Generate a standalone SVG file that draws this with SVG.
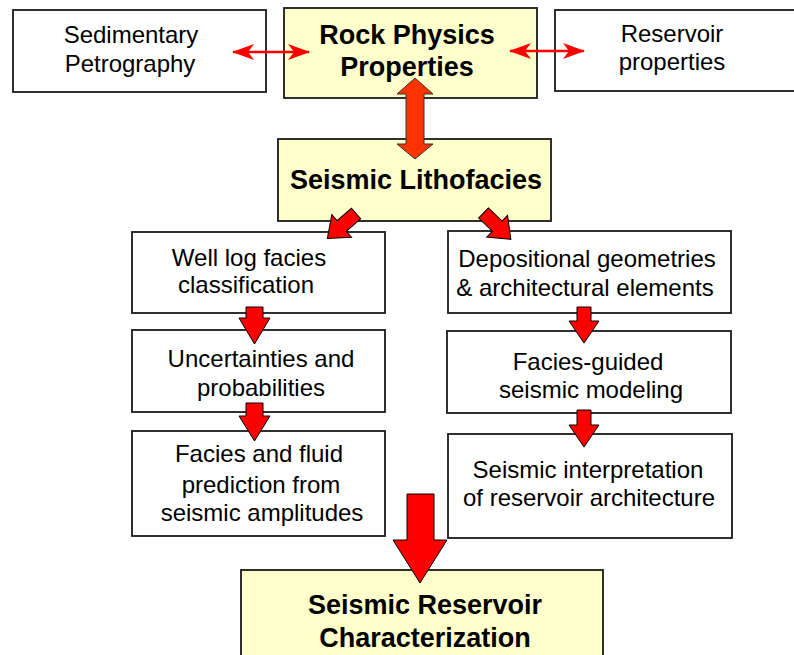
<svg xmlns="http://www.w3.org/2000/svg" width="794" height="655" viewBox="0 0 794 655">
<defs>
<style>
.box{fill:#ffffff;stroke:#1a1a1a;stroke-width:1.8}
.ybox{fill:#ffffcc;stroke:#1a1a1a;stroke-width:1.8}
.t{font-family:"Liberation Sans",Arial,sans-serif;font-size:24px;fill:#000;text-anchor:middle}
.b{font-family:"Liberation Sans",Arial,sans-serif;font-size:27px;font-weight:bold;fill:#000;text-anchor:middle}
.red{fill:#ff0000;stroke:#000;stroke-width:1}
.org{fill:#ff3300;stroke:#333;stroke-width:1}
.thin{stroke:#ff0000;stroke-width:2.5;fill:none}
</style>
<marker id="barb" viewBox="0 0 22 16" refX="21" refY="8" markerWidth="22" markerHeight="16" markerUnits="userSpaceOnUse" orient="auto-start-reverse">
<path d="M0,0 L22,8 L0,16 L6,8 z" fill="#ff0000"/>
</marker>
</defs>
<rect width="794" height="655" fill="#ffffff"/>

<g id="sedimentary-petrography">
<rect class="box" x="13" y="10" width="253" height="82"/>
<text class="t" x="131" y="43">Sedimentary</text>
<text class="t" x="130" y="72">Petrography</text>
</g>

<g id="rock-physics">
<rect class="ybox" x="284" y="8" width="253" height="90"/>
<text class="b" x="407" y="44">Rock Physics</text>
<text class="b" x="407" y="76">Properties</text>
</g>

<g id="reservoir-properties">
<rect class="box" x="555" y="10" width="245" height="81"/>
<text class="t" x="672" y="42">Reservoir</text>
<text class="t" x="672" y="70">properties</text>
</g>

<g id="seismic-lithofacies">
<rect class="ybox" x="278" y="139" width="273" height="82"/>
<text class="b" x="416" y="189">Seismic Lithofacies</text>
</g>

<g id="well-log">
<rect class="box" x="132" y="232" width="253" height="81"/>
<text class="t" x="249" y="266">Well log facies</text>
<text class="t" x="246" y="293">classification</text>
</g>

<g id="uncertainties">
<rect class="box" x="132" y="330" width="253" height="82"/>
<text class="t" x="261" y="367">Uncertainties and</text>
<text class="t" x="261" y="396">probabilities</text>
</g>

<g id="facies-fluid">
<rect class="box" x="132" y="431" width="253" height="105"/>
<text class="t" x="259" y="462">Facies and fluid</text>
<text class="t" x="261" y="493">prediction from</text>
<text class="t" x="262" y="521">seismic amplitudes</text>
</g>

<g id="depositional">
<rect class="box" x="448" y="231" width="283" height="82"/>
<text class="t" x="587" y="267">Depositional geometries</text>
<text class="t" x="585" y="296">&amp; architectural elements</text>
</g>

<g id="facies-guided">
<rect class="box" x="447" y="331" width="284" height="82"/>
<text class="t" x="588" y="370">Facies-guided</text>
<text class="t" x="591" y="398">seismic modeling</text>
</g>

<g id="seismic-interpretation">
<rect class="box" x="448" y="434" width="284" height="104"/>
<text class="t" x="588" y="478">Seismic interpretation</text>
<text class="t" x="589" y="506">of reservoir architecture</text>
</g>

<g id="seismic-reservoir-characterization">
<rect class="ybox" x="241" y="570" width="362" height="100"/>
<text class="b" x="425" y="614">Seismic Reservoir</text>
<text class="b" x="425" y="647">Characterization</text>
</g>

<g id="connectors">
<line class="thin" x1="233" y1="52" x2="309" y2="52" marker-start="url(#barb)" marker-end="url(#barb)"/>
<line class="thin" x1="510" y1="51" x2="584" y2="51" marker-start="url(#barb)" marker-end="url(#barb)"/>
<polygon class="org" points="415,78 433,94 424,94 424,144 433,144 415,159 397,144 406,144 406,94 397,94"/>
<polygon class="red" transform="translate(356,213.5) rotate(139)" points="0,-7 19,-7 19,-15 38,0 19,15 19,7 0,7"/>
<polygon class="red" transform="translate(483.5,213) rotate(44)" points="0,-7 19,-7 19,-15 38,0 19,15 19,7 0,7"/>
<polygon class="red" points="246,307 263,307 263,318 270,318 254.5,344 239,318 246,318"/>
<polygon class="red" points="246,403 263,403 263,416 270,416 254.5,441 239,416 246,416"/>
<polygon class="red" points="577,307 591,307 591,321 599,321 584,343 569,321 577,321"/>
<polygon class="red" points="577,410 591,410 591,425 599,425 584,447 569,425 577,425"/>
<polygon class="red" points="407,494 434,494 434,540 447,540 420,583 393,540 407,540"/>
</g>
</svg>
